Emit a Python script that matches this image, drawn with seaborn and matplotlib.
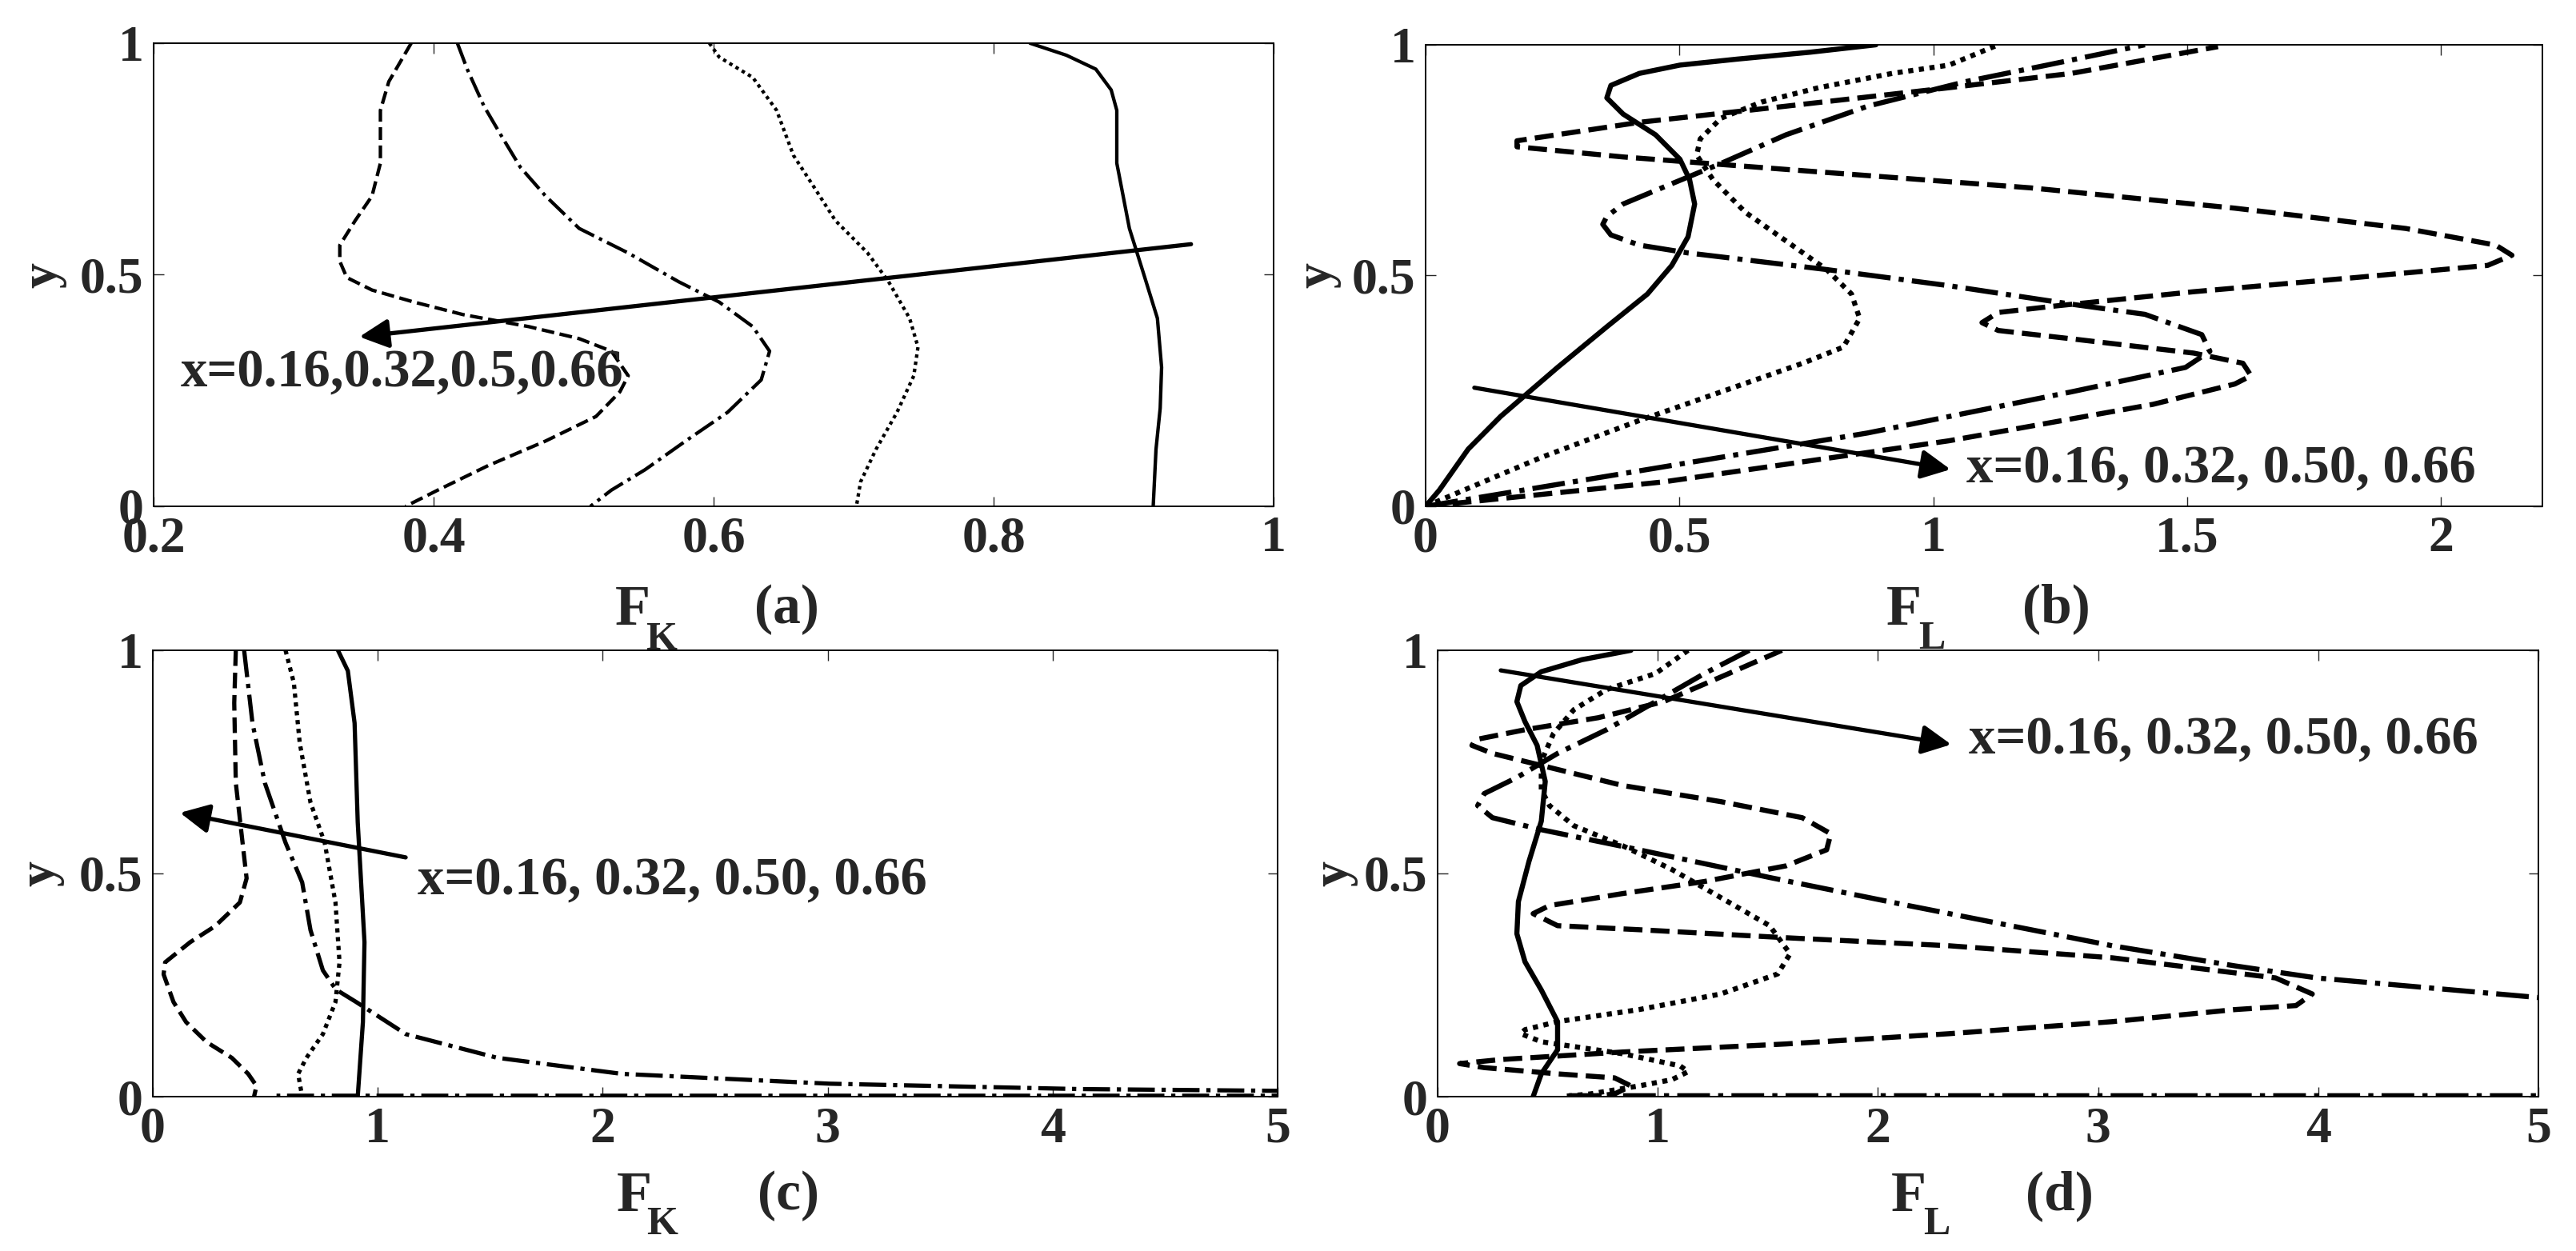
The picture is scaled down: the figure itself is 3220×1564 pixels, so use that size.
import matplotlib
matplotlib.use("Agg")
import matplotlib.pyplot as plt
import seaborn as sns

# ---- data (F value, y value) ----
series_labels = ["x=0.16", "x=0.32", "x=0.50", "x=0.66"]
line_styles = ["-", (0, (1, 1.1)), "-.", "--"]

# panel (a): F_K
a_f_016 = [0.826, 0.852, 0.873, 0.884, 0.888, 0.888, 0.897, 0.908, 0.917, 0.920, 0.919, 0.916, 0.914]
a_y_016 = [1.0, 0.974, 0.944, 0.899, 0.855, 0.741, 0.600, 0.494, 0.406, 0.300, 0.212, 0.123, 0.0]
a_f_032 = [0.597, 0.604, 0.628, 0.645, 0.657, 0.672, 0.687, 0.710, 0.725, 0.740, 0.746, 0.743, 0.731, 0.716, 0.705, 0.702]
a_y_032 = [1.0, 0.970, 0.926, 0.855, 0.758, 0.688, 0.617, 0.547, 0.485, 0.406, 0.344, 0.282, 0.203, 0.123, 0.053, 0.0]
a_f_050 = [0.417, 0.424, 0.436, 0.448, 0.462, 0.480, 0.504, 0.539, 0.575, 0.604, 0.628, 0.640, 0.634, 0.610, 0.580, 0.551, 0.527, 0.512]
a_y_050 = [1.0, 0.944, 0.864, 0.802, 0.732, 0.670, 0.600, 0.547, 0.485, 0.441, 0.388, 0.335, 0.273, 0.203, 0.141, 0.079, 0.035, 0.0]
a_f_066 = [0.384, 0.368, 0.362, 0.362, 0.356, 0.344, 0.333, 0.333, 0.338, 0.356, 0.386, 0.421, 0.468, 0.504, 0.527, 0.539, 0.533, 0.516, 0.480, 0.439, 0.403, 0.380]
a_y_066 = [1.0, 0.917, 0.855, 0.741, 0.670, 0.617, 0.564, 0.529, 0.494, 0.467, 0.441, 0.414, 0.388, 0.362, 0.335, 0.282, 0.247, 0.194, 0.141, 0.088, 0.035, 0.0]

# panel (b): F_L
b_f_016 = [0, 0.027, 0.084, 0.148, 0.260, 0.357, 0.437, 0.485, 0.517, 0.530, 0.520, 0.501, 0.453, 0.389, 0.357, 0.365, 0.421, 0.501, 0.614, 0.758, 0.887]
b_y_016 = [0, 0.035, 0.124, 0.195, 0.301, 0.389, 0.460, 0.522, 0.584, 0.655, 0.708, 0.752, 0.805, 0.850, 0.885, 0.912, 0.938, 0.956, 0.969, 0.984, 1.0]
b_f_032 = [0, 0.228, 0.421, 0.582, 0.743, 0.823, 0.855, 0.839, 0.790, 0.710, 0.630, 0.566, 0.534, 0.541, 0.582, 0.662, 0.774, 0.919, 1.031, 1.128]
b_y_032 = [0, 0.106, 0.186, 0.248, 0.310, 0.345, 0.407, 0.460, 0.513, 0.575, 0.637, 0.708, 0.761, 0.796, 0.841, 0.876, 0.907, 0.938, 0.956, 1.0]
b_f_050 = [0, 0.389, 0.871, 1.272, 1.497, 1.545, 1.529, 1.417, 1.272, 1.031, 0.790, 0.517, 0.421, 0.365, 0.349, 0.357, 0.389,
           0.485, 0.582, 0.710, 0.871, 1.063, 1.224, 1.417]
b_y_050 = [0, 0.071, 0.159, 0.248, 0.301, 0.336, 0.372, 0.416, 0.438, 0.478, 0.513, 0.549, 0.566, 0.588, 0.611, 0.628, 0.655,
           0.699, 0.743, 0.805, 0.867, 0.920, 0.956, 1.0]
b_f_066 = [0, 0.469, 1.031, 1.433, 1.594, 1.626, 1.610, 1.513, 1.272, 1.128, 1.096, 1.128, 1.240, 1.513, 1.835, 2.092, 2.140, 2.108, 1.931, 1.594,
           1.192, 0.710, 0.389, 0.180, 0.180, 0.421, 0.710, 1.031, 1.272, 1.561]
b_y_066 = [0, 0.053, 0.142, 0.221, 0.265, 0.283, 0.310, 0.332, 0.363, 0.381, 0.398, 0.420, 0.434, 0.465, 0.496, 0.522, 0.544, 0.566, 0.602, 0.646,
           0.690, 0.730, 0.757, 0.779, 0.792, 0.832, 0.867, 0.907, 0.938, 0.996]

# panel (c): F_K, wider range
c_f_016 = [0.823, 0.867, 0.897, 0.911, 0.941, 0.934, 0.911]
c_y_016 = [1.0, 0.954, 0.837, 0.614, 0.346, 0.167, 0.0]
c_f_032 = [0.590, 0.627, 0.653, 0.701, 0.764, 0.812, 0.830, 0.812, 0.756, 0.683, 0.646, 0.664]
c_y_032 = [1.0, 0.927, 0.793, 0.659, 0.569, 0.435, 0.301, 0.212, 0.140, 0.087, 0.051, 0.0]
c_f_050 = [0.406, 0.443, 0.498, 0.590, 0.664, 0.701, 0.756, 0.814, 0.904, 1.125, 1.531, 2.085, 3.007, 4.114, 5.0, 6.0, 6.0, 0.55]
c_y_050 = [1.0, 0.837, 0.703, 0.569, 0.480, 0.373, 0.283, 0.240, 0.212, 0.140, 0.087, 0.051, 0.029, 0.017, 0.013, 0.009, 0.002, 0.002]
c_f_066 = [0.369, 0.362, 0.369, 0.399, 0.417, 0.387, 0.277, 0.166, 0.055, 0.048, 0.092, 0.148, 0.240, 0.351, 0.424, 0.461, 0.450]
c_y_066 = [1.0, 0.882, 0.703, 0.569, 0.489, 0.435, 0.382, 0.346, 0.301, 0.274, 0.212, 0.167, 0.122, 0.087, 0.051, 0.024, 0.0]

# panel (d): F_L, wider range
d_f_016 = [0.878, 0.656, 0.471, 0.378, 0.360, 0.397, 0.452, 0.489, 0.471, 0.415, 0.367, 0.360, 0.397, 0.471, 0.545, 0.545, 0.471, 0.434]
d_y_016 = [1.0, 0.979, 0.952, 0.921, 0.885, 0.840, 0.787, 0.706, 0.617, 0.527, 0.437, 0.365, 0.302, 0.239, 0.168, 0.105, 0.051, 0.0]
d_f_032 = [1.138, 0.990, 0.767, 0.619, 0.526, 0.471, 0.471, 0.508, 0.619, 0.841, 1.064, 1.286, 1.508, 1.601, 1.545, 1.286, 0.915, 0.545,
           0.397, 0.378, 0.471, 0.841, 1.101, 1.138, 1.064, 0.915, 0.693, 0.563]
d_y_032 = [1.0, 0.948, 0.912, 0.867, 0.813, 0.751, 0.688, 0.652, 0.607, 0.562, 0.509, 0.446, 0.383, 0.320, 0.275, 0.230, 0.195, 0.168,
           0.150, 0.141, 0.123, 0.096, 0.069, 0.056, 0.038, 0.024, 0.006, 0.0]
d_f_050 = [1.416, 1.212, 0.990, 0.767, 0.545, 0.360, 0.212, 0.182, 0.249, 0.471, 0.915, 1.508, 2.139, 2.695, 3.065, 3.621, 3.992, 5.0, 6.0, 6.0, 0.56]
d_y_050 = [1.0, 0.948, 0.885, 0.822, 0.769, 0.715, 0.679, 0.652, 0.625, 0.598, 0.553, 0.491, 0.428, 0.374, 0.338, 0.293, 0.266, 0.222, 0.18, 0.002, 0.002]
d_f_066 = [1.564, 1.323, 1.027, 0.730, 0.397, 0.174, 0.156, 0.249, 0.471, 0.841, 1.286, 1.656, 1.786, 1.767, 1.582, 1.212, 0.841, 0.508, 0.434, 0.545,
           0.915, 1.582, 2.324, 3.065, 3.806, 3.973, 3.899, 3.621, 3.065, 2.324, 1.582, 0.841, 0.285, 0.100, 0.212, 0.545, 0.804, 0.878, 0.804, 0.693]
d_y_066 = [1.0, 0.948, 0.885, 0.849, 0.822, 0.800, 0.787, 0.769, 0.742, 0.697, 0.661, 0.625, 0.589, 0.553, 0.517, 0.482, 0.455, 0.428, 0.410, 0.383,
           0.374, 0.356, 0.338, 0.311, 0.266, 0.230, 0.204, 0.195, 0.168, 0.141, 0.118, 0.100, 0.083, 0.074, 0.065, 0.051, 0.042, 0.024, 0.006, 0.0]

# axis ticks
a_xticks = [0.2, 0.4, 0.6, 0.8, 1]
a_xticklabels = ["0.2", "0.4", "0.6", "0.8", "1"]
b_xticks = [0, 0.5, 1, 1.5, 2]
b_xticklabels = ["0", "0.5", "1", "1.5", "2"]
cd_xticks = [0, 1, 2, 3, 4, 5]
cd_xticklabels = ["0", "1", "2", "3", "4", "5"]
y_ticks = [0, 0.5, 1]
y_ticklabels = ["0", "0.5", "1"]

# annotation texts
a_note = "x=0.16,0.32,0.5,0.66"
bcd_note = "x=0.16, 0.32, 0.50, 0.66"

sns.set_style("ticks")
plt.rcParams["font.family"] = ["Liberation Serif", "DejaVu Serif"]
plt.rcParams["font.weight"] = "bold"

W, H = 3220, 1564
fig = plt.figure(figsize=(W / 100, H / 100), dpi=100)


def make_axes(left, top, right, bottom):
    return fig.add_axes([left / W, 1 - bottom / H, (right - left) / W, (bottom - top) / H])


def draw_panel(ax, fs, ys, lw, xlim, xticks, xticklabels, sub, letter, ylab_off, note, note_xy, tail, head):
    for f, y, ls in zip(fs, ys, line_styles):
        sns.lineplot(x=f, y=y, ax=ax, sort=False, estimator=None, color="black",
                     linewidth=lw, linestyle=ls)
    ax.set_xlim(*xlim)
    ax.set_ylim(0, 1)
    ax.set_xticks(xticks)
    ax.set_xticklabels(xticklabels)
    ax.set_yticks(y_ticks)
    ax.set_yticklabels(y_ticklabels)
    ax.tick_params(direction="in", top=True, right=True, length=9, width=1,
                   labelsize=46, pad=9)
    for sp in ax.spines.values():
        sp.set_linewidth(1.4)
        sp.set_color("black")
    ax.set_xlabel("")
    ax.set_ylabel("y", fontsize=46, fontweight="bold")
    width_px = ax.get_position().width * W
    ax.yaxis.set_label_coords(-ylab_off / width_px, 0.5)
    # x label: F with a big lowered subscript, then the panel letter
    ax.text(0.428, -0.256, "F", transform=ax.transAxes, fontsize=52,
            ha="center", va="baseline")
    ax.text(0.453, -0.309, sub, transform=ax.transAxes, fontsize=36,
            ha="center", va="baseline")
    ax.text(0.565, -0.252, letter, transform=ax.transAxes, fontsize=50,
            ha="center", va="baseline")
    ax.annotate("", xy=head, xytext=tail,
                arrowprops=dict(arrowstyle="-|>", color="black", lw=3.8,
                                mutation_scale=55, shrinkA=0, shrinkB=0))
    ax.text(note_xy[0], note_xy[1], note, fontsize=48, ha="left", va="center")


ax_a = make_axes(192, 54, 1592, 633)
draw_panel(ax_a, [a_f_016, a_f_032, a_f_050, a_f_066], [a_y_016, a_y_032, a_y_050, a_y_066],
           3.1, (0.2, 1), a_xticks, a_xticklabels, "K", "(a)", 109,
           a_note, (0.219, 0.287), (0.941, 0.566), (0.347, 0.366))

ax_b = make_axes(1782, 56, 3178, 633)
draw_panel(ax_b, [b_f_016, b_f_032, b_f_050, b_f_066], [b_y_016, b_y_032, b_y_050, b_y_066],
           4.6, (0, 2.2), b_xticks, b_xticklabels, "L", "(b)", 106,
           bcd_note, (1.065, 0.080), (0.096, 0.257), (1.034, 0.080))

ax_c = make_axes(191, 813, 1597, 1371)
draw_panel(ax_c, [c_f_016, c_f_032, c_f_050, c_f_066], [c_y_016, c_y_032, c_y_050, c_y_066],
           3.8, (0, 5), cd_xticks, cd_xticklabels, "K", "(c)", 111,
           bcd_note, (1.177, 0.482), (1.124, 0.536), (0.121, 0.636))

ax_d = make_axes(1797, 813, 3173, 1371)
draw_panel(ax_d, [d_f_016, d_f_032, d_f_050, d_f_066], [d_y_016, d_y_032, d_y_050, d_y_066],
           4.6, (0, 5), cd_xticks, cd_xticklabels, "L", "(d)", 100,
           bcd_note, (2.413, 0.797), (0.287, 0.955), (2.333, 0.789))

fig.savefig("out.png", dpi=100)
